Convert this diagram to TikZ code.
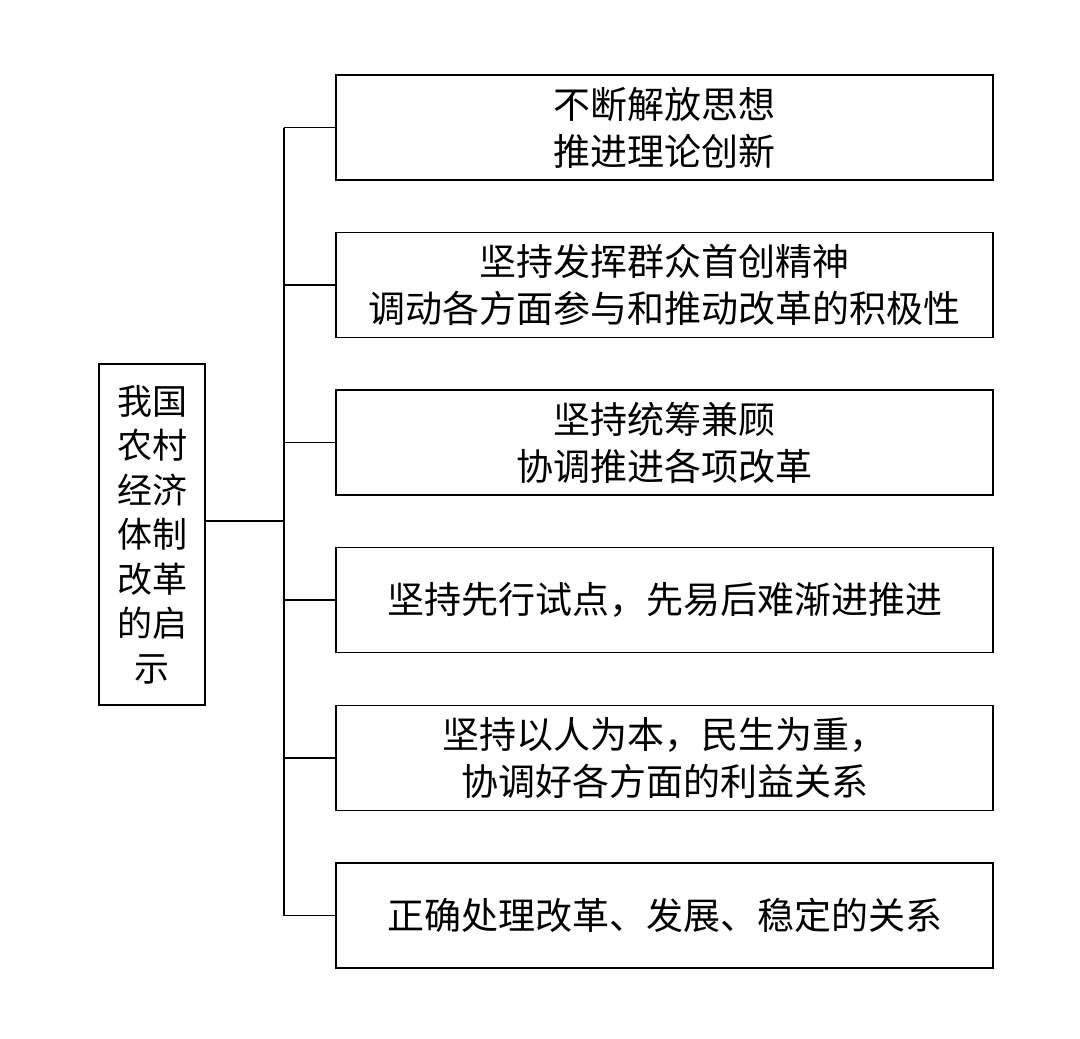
\documentclass[tikz,border=0pt]{standalone}
\usepackage{fontspec}
\newfontfamily\cjk{Noto Sans CJK SC}
\begin{document}
\begin{tikzpicture}[x=1pt,y=-1pt,
  box/.style={draw=black,line width=1.3pt,minimum width=657pt,minimum height=105pt,inner sep=0pt,align=center,font=\cjk\fontsize{37}{47}\selectfont},
  lbox/.style={draw=black,line width=1.3pt,minimum width=106pt,minimum height=341pt,inner sep=0pt,align=center,font=\cjk\fontsize{35}{44.5}\selectfont},
  link/.style={line width=1.3pt}]
\useasboundingbox (0,0) rectangle (1080,1039);
\node[lbox] (L) at (152,534.5) {我国\\农村\\经济\\体制\\改革\\的启\\示};
\node[box] (b1) at (664.5,127.5) {不断解放思想\\推进理论创新};
\node[box] (b2) at (664.5,285) {坚持发挥群众首创精神\\调动各方面参与和推动改革的积极性};
\node[box] (b3) at (664.5,442.5) {坚持统筹兼顾\\协调推进各项改革};
\node[box] (b4) at (664.5,600) {坚持先行试点，先易后难渐进推进};
\node[box] (b5) at (664.5,758) {坚持以人为本，民生为重，\\协调好各方面的利益关系};
\node[box] (b6) at (664.5,915.5) {正确处理改革、发展、稳定的关系};
\coordinate (j) at (284,521);
\coordinate (t1) at (284,127.5);
\coordinate (t6) at (284,915.5);
\draw[link] (L.east |- j) -- (j);
\draw[link] (t1) -- (t6);
\foreach \b in {b1,b2,b3,b4,b5,b6}{
  \draw[link] (t1 |- \b.west) -- (\b.west);
}
\end{tikzpicture}
\end{document}
